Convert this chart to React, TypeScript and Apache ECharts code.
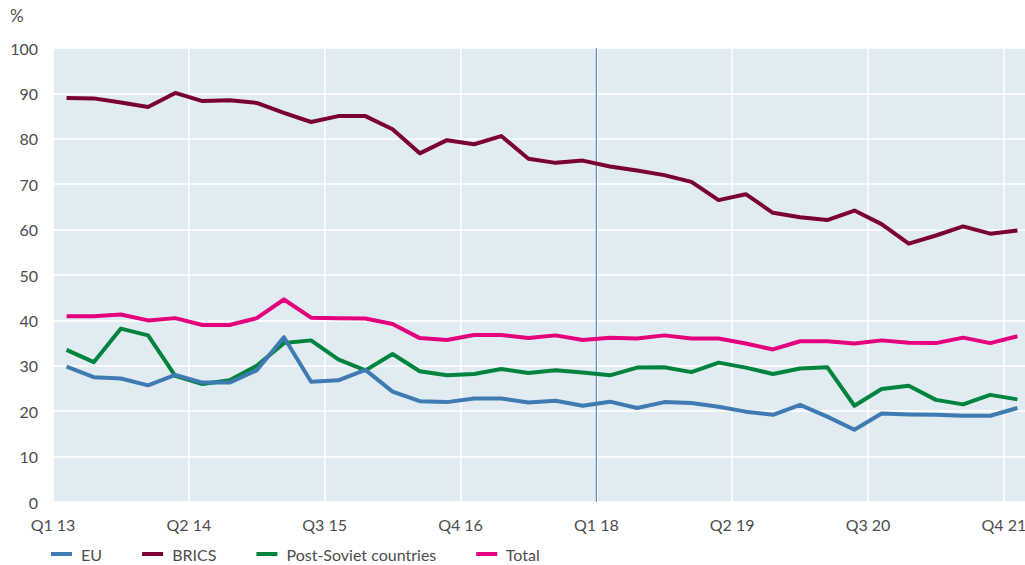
import React, { useEffect, useRef } from "react";
import * as echarts from "echarts";

const quarterTickLabels = ["Q1 13", "Q2 14", "Q3 15", "Q4 16", "Q1 18", "Q2 19", "Q3 20", "Q4 21"];

const euValues = [
  29.8, 27.5, 27.2, 25.7, 28.0, 26.3, 26.3, 29.0, 36.3, 26.5, 26.8, 29.1,
  24.3, 22.2, 22.0, 22.8, 22.8, 21.9, 22.3, 21.2, 22.1, 20.7, 22.0, 21.8,
  21.0, 19.9, 19.2, 21.4, 18.8, 15.9, 19.5, 19.3, 19.2, 19.0, 19.0, 20.7,
];
const bricsValues = [
  89.0, 88.9, 88.0, 87.0, 90.1, 88.3, 88.5, 87.9, 85.7, 83.7, 85.0, 85.0,
  82.1, 76.8, 79.7, 78.8, 80.6, 75.6, 74.7, 75.2, 73.9, 73.0, 72.0, 70.5,
  66.5, 67.8, 63.7, 62.7, 62.1, 64.2, 61.2, 56.9, 58.7, 60.7, 59.1, 59.8,
];
const postSovietValues = [
  33.5, 30.8, 38.2, 36.7, 27.8, 26.0, 26.8, 30.0, 35.0, 35.6, 31.4, 29.0,
  32.6, 28.8, 27.9, 28.2, 29.3, 28.4, 29.0, 28.5, 27.9, 29.6, 29.7, 28.6,
  30.7, 29.6, 28.2, 29.4, 29.7, 21.2, 24.9, 25.6, 22.5, 21.5, 23.6, 22.6,
];
const totalValues = [
  40.9, 40.9, 41.3, 40.0, 40.5, 39.0, 39.0, 40.5, 44.6, 40.6, 40.5, 40.4,
  39.2, 36.1, 35.7, 36.8, 36.8, 36.1, 36.7, 35.7, 36.2, 36.0, 36.7, 36.0,
  36.0, 34.9, 33.6, 35.4, 35.4, 34.9, 35.6, 35.1, 35.0, 36.2, 35.0, 36.5,
];

const seriesNames = ["EU", "BRICS", "Post-Soviet countries", "Total"];
const seriesColors = ["#3f7bb2", "#7b0034", "#00843f", "#e5007e"];
const markerQuarterIndex = 20; // boundary before Q1 18
const markerRange = [0, 100];

const FONT = "Lato, 'Open Sans', sans-serif";
const TEXT = "#4d4d4d";

export default function App() {
  const ref = useRef<HTMLDivElement>(null);
  useEffect(() => {
    if (!ref.current) return;
    const chart = echarts.init(ref.current, null, { renderer: "svg" });
    const all = [euValues, bricsValues, postSovietValues, totalValues];
    const series: any[] = [
      {
        name: "marker",
        type: "line",
        symbol: "none",
        silent: true,
        z: 2,
        lineStyle: { width: 1, color: "#3f7bb2" },
        itemStyle: { color: "#3f7bb2" },
        data: markerRange.map((v) => [markerQuarterIndex, v]),
      },
      ...all.map((vals, k) => ({
        name: seriesNames[k],
        type: "line",
        symbol: "none",
        z: k === 0 ? 4 : 3,
        lineStyle: { width: 4, color: seriesColors[k], join: "round" },
        itemStyle: { color: seriesColors[k] },
        data: vals.map((v, i) => [i + 0.5, v]),
      })),
    ];
    chart.setOption({
      animation: false,
      textStyle: { fontFamily: FONT },
      grid: {
        show: true,
        left: 53,
        top: 48,
        width: 978,
        bottom: 63,
        borderWidth: 0,
        backgroundColor: "#e1ebf2",
        outerBoundsMode: "none",
        containLabel: false,
      },
      xAxis: {
        type: "value",
        min: 0,
        max: 36,
        interval: 5,
        axisLine: { show: false },
        axisTick: { show: false },
        splitLine: { show: true, lineStyle: { color: "#ffffff", width: 1.5 } },
        axisLabel: {
          margin: 14,
          color: TEXT,
          fontSize: 16,
          fontFamily: FONT,
          formatter: (v: number) => (v % 5 === 0 ? quarterTickLabels[v / 5] ?? "" : ""),
        },
      },
      yAxis: {
        type: "value",
        min: 0,
        max: 100,
        interval: 10,
        axisLine: { show: false },
        axisTick: { show: false },
        splitLine: { show: true, lineStyle: { color: "#ffffff", width: 1.5 } },
        axisLabel: { margin: 15, color: TEXT, fontSize: 16, fontFamily: FONT },
      },
      legend: {
        left: 46,
        top: 541,
        itemWidth: 21,
        itemHeight: 4,
        itemGap: 40,
        icon: "rect",
        data: seriesNames,
        formatter: (name: string) => " " + name,
        textStyle: { color: TEXT, fontSize: 16, fontFamily: FONT },
      },
      graphic: [
        {
          type: "text",
          left: 10,
          top: 7,
          style: { text: "%", fill: TEXT, fontSize: 17, fontFamily: FONT },
        },
      ],
      series,
    });
    return () => chart.dispose();
  }, []);
  return (
    <div
      ref={ref}
      style={{ position: "fixed", left: 0, top: 0, width: 1025, height: 565, background: "#fff" }}
    />
  );
}
